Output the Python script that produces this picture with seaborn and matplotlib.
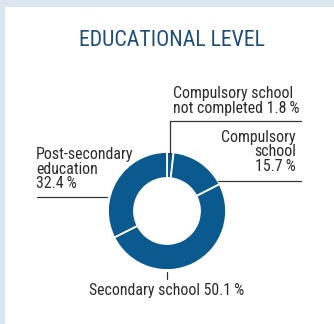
import matplotlib
matplotlib.use("Agg")
import matplotlib.pyplot as plt
import seaborn as sns
from matplotlib import font_manager

categories = ["Compulsory school not completed", "Compulsory school", "Secondary school", "Post-secondary education"]
values = [1.8, 15.7, 50.1, 32.4]
title = "EDUCATIONAL LEVEL"

sns.set_theme(style="white")
names = {f.name for f in font_manager.fontManager.ttflist}
fam = "Roboto Condensed" if "Roboto Condensed" in names else "Liberation Sans"
plt.rcParams['font.family'] = [fam, 'DejaVu Sans']

W, H = 334, 324
fig = plt.figure(figsize=(W / 100, H / 100), dpi=100)
fig.patch.set_facecolor("#dde5ee")
ax = fig.add_axes([0, 0, 1, 1])
ax.set_xlim(0, W)
ax.set_ylim(0, H)
ax.set_aspect("equal")
ax.axis("off")

def Y(y):
    return H - y

# white panel
ax.add_patch(plt.Rectangle((5, 0), W - 5, H - 7, facecolor="white", edgecolor="none", zorder=0))

blue = "#0b5a8f"
palette = [blue] * len(values)
ax.pie(values, startangle=90, counterclock=False, radius=59, center=(167, Y(211)),
       colors=palette, wedgeprops=dict(width=26, edgecolor="white", linewidth=1.3),
       frame=True)
ax.set_xlim(0, W)
ax.set_ylim(0, H)
ax.axis("off")

lc = "#333333"
lw = 0.9
ax.plot([170, 170], [Y(155), Y(121)], color=lc, lw=lw)
ax.plot([170, 301], [Y(121), Y(121)], color=lc, lw=lw)
ax.plot([218, 301], [Y(181), Y(181)], color=lc, lw=lw)
ax.plot([37, 107], [Y(197), Y(197)], color=lc, lw=lw)
ax.plot([167, 167], [Y(272), Y(279)], color=lc, lw=lw)

tc = "#2b2b2b"
fs = 11.4
ax.text(172, Y(41), title, ha="center", va="center", fontsize=15.7, color="#1d4d78")
ax.text(173, Y(101), "Compulsory school\nnot completed 1.8\u2009%", ha="left", va="center",
        fontsize=fs, color=tc, linespacing=0.95)
ax.text(296, Y(152), "Compulsory\nschool\n15.7\u2009%", ha="right", va="center",
        fontsize=fs, color=tc, linespacing=0.95)
ax.text(36, Y(169), "Post-secondary\neducation\n32.4\u2009%", ha="left", va="center",
        fontsize=fs, color=tc, linespacing=0.95)
ax.text(167, Y(291), "Secondary school 50.1\u2009%", ha="center", va="center",
        fontsize=fs, color=tc)

fig.savefig("out.png", dpi=100, facecolor=fig.get_facecolor())
